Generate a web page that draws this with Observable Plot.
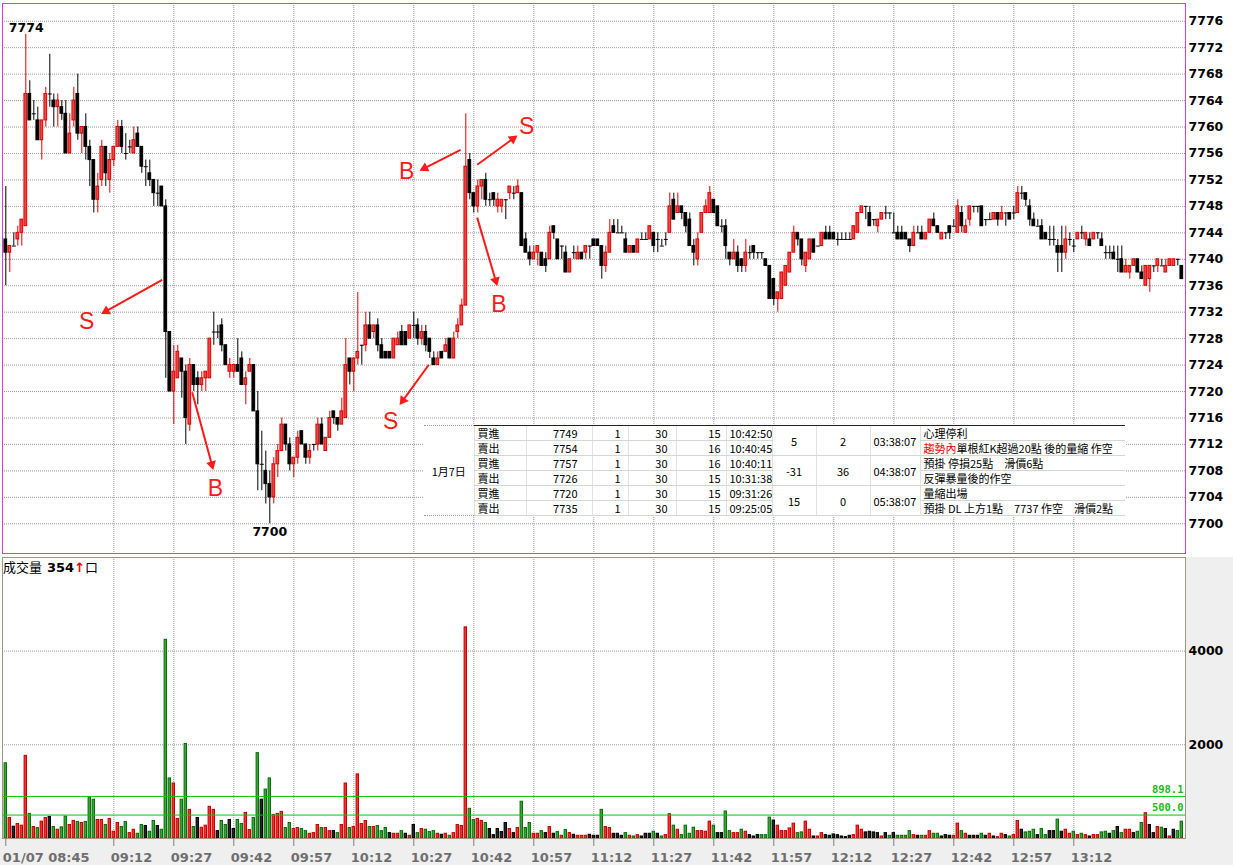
<!DOCTYPE html>
<html><head><meta charset="utf-8">
<script src="https://cdn.jsdelivr.net/npm/d3@7"></script>
<script src="https://cdn.jsdelivr.net/npm/@observablehq/plot@0.6"></script>
<style>
body{margin:0;background:#fff;}
#wrap{position:relative;width:1233px;height:865px;overflow:hidden;background:#fff;}
#price,#vol{position:absolute;left:0;z-index:1;}
#price{top:0}
#vol{top:556px}
.bgR{position:absolute;left:1185px;top:557px;width:48px;height:281px;background:#efefef}
.bgB{position:absolute;left:0;top:838px;width:1233px;height:27px;background:#efefef}
#vlabel{position:absolute;left:3px;top:559px;z-index:3;font-size:13px;line-height:16px;white-space:nowrap;font-family:"Noto Sans CJK TC","DejaVu Sans",sans-serif;color:#000}
#vlabel b{font-family:"DejaVu Sans";font-weight:bold;margin-left:5px}
#vlabel .ar{color:#e00;font-weight:bold;font-family:"DejaVu Sans"}
#trades{position:absolute;left:424px;top:425px;z-index:3;border-collapse:collapse;table-layout:fixed;background:#fff;
 font-family:"Noto Sans CJK TC",sans-serif;font-size:11px;color:#000}
#trades td{height:14px;padding:0;line-height:14px;white-space:nowrap;overflow:hidden;border-left:1px solid #e2e2e2;border-bottom:1px solid #d6d6d6;vertical-align:middle}
#trades td.date{border-left:none;border-top:1px dotted #999;border-bottom:1px dotted #999;text-align:center}
#trades tr.g td{border-top:1px solid #222}
#trades td.side{padding-left:3px}
#trades td.r{text-align:right}
#trades td.c{text-align:center}
#trades td.l{padding-left:3px}
#trades .red{color:#e00}
</style>
</head><body>
<div id="wrap">
  <div class="bgR"></div><div class="bgB"></div>
  <div id="price"></div>
  <div id="vol"></div>
  <div id="vlabel">成交量<b>354</b><span class="ar">↑</span>口</div>
</div>
<script>
// ---------- data (1-minute bars, 01/07 from 08:45) ----------
const open = [
7743,7741,7742,7743,7744,7745,7765,7762,7761,7758,
7761,7765,7764,7763,7763,7762,7756,7761,7765,7759,
7760,7757,7755,7749,7752,7757,7752,7755,7757,7760,
7756,7757,7756,7759,7757,7754,7753,7752,7750,7751,
7748,7729,7720,7722,7725,7723,7715,7724,7722,7721,
7722,7722,7729,7729,7730,7727,7723,7723,7724,7725,
7721,7723,7724,7717,7709,7708,7706,7704,7709,7711,
7715,7712,7709,7710,7714,7712,7710,7712,7712,7715,
7711,7713,7717,7716,7715,7716,7725,7723,7725,7727,
7727,7730,7729,7730,7727,7726,7726,7725,7727,7729,
7729,7728,7730,7730,7728,7729,7728,7725,7724,7726,
7726,7728,7725,7729,7730,7733,7755,7750,7748,7751,
7752,7749,7750,7748,7748,7749,7750,7750,7750,7750,
7743,7741,7740,7741,7741,7740,7740,7745,7743,7742,
7741,7738,7741,7740,7741,7741,7742,7743,7743,7742,
7739,7741,7745,7744,7744,7743,7741,7742,7741,7743,
7743,7743,7744,7743,7742,7743,7744,7749,7747,7748,
7747,7746,7742,7740,7744,7747,7747,7749,7748,7745,
7745,7741,7740,7741,7740,7739,7741,7742,7741,7741,
7740,7739,7737,7734,7734,7736,7738,7741,7744,7743,
7739,7740,7743,7742,7742,7744,7744,7744,7743,7743,
7743,7743,7743,7744,7747,7748,7747,7746,7745,7746,
7747,7747,7744,7744,7744,7744,7743,7742,7744,7744,
7743,7744,7746,7745,7743,7744,7745,7745,7744,7747,
7744,7746,7748,7748,7748,7746,7746,7746,7747,7746,
7747,7747,7747,7747,7750,7750,7748,7746,7745,7745,
7744,7743,7743,7742,7742,7741,7743,7742,7743,7744,
7743,7743,7743,7744,7743,7741,7741,7741,7740,7740,
7738,7738,7739,7740,7738,7736,7737,7739,7739,7739,
7738,7739,7739,7740,7739];
const high = [
7751,7742,7744,7745,7746,7774,7767,7764,7763,7761,
7766,7771,7765,7765,7764,7764,7762,7766,7768,7760,
7762,7758,7755,7753,7758,7757,7756,7757,7761,7761,
7759,7758,7760,7760,7757,7755,7755,7752,7752,7751,
7749,7729,7727,7727,7725,7724,7725,7724,7723,7723,
7723,7728,7732,7730,7731,7727,7725,7724,7728,7726,
7723,7725,7724,7720,7714,7711,7708,7710,7712,7716,
7715,7713,7710,7714,7714,7712,7712,7712,7716,7716,
7713,7717,7717,7716,7719,7728,7725,7725,7735,7727,
7732,7732,7730,7731,7728,7726,7726,7728,7729,7730,
7729,7730,7732,7731,7730,7730,7728,7726,7726,7726,
7728,7728,7729,7731,7734,7762,7756,7750,7752,7752,
7753,7750,7750,7750,7749,7749,7751,7751,7752,7750,
7744,7742,7742,7742,7741,7741,7745,7745,7743,7742,
7742,7740,7742,7742,7741,7742,7742,7743,7743,7742,
7742,7746,7746,7746,7745,7744,7742,7742,7743,7744,
7744,7745,7744,7744,7743,7744,7750,7750,7750,7748,
7747,7747,7743,7744,7747,7749,7751,7749,7748,7746,
7746,7741,7743,7742,7740,7743,7742,7742,7741,7741,
7740,7739,7737,7735,7738,7739,7741,7745,7744,7743,
7741,7743,7743,7742,7744,7745,7745,7744,7744,7744,
7744,7744,7745,7747,7748,7748,7748,7746,7746,7747,
7748,7747,7747,7745,7745,7744,7743,7745,7745,7745,
7744,7746,7747,7745,7744,7744,7745,7746,7749,7748,
7746,7748,7748,7748,7748,7746,7747,7747,7747,7748,
7747,7747,7748,7751,7751,7750,7749,7747,7746,7746,
7744,7745,7745,7743,7745,7745,7744,7743,7744,7745,
7744,7744,7744,7744,7744,7742,7742,7742,7742,7742,
7740,7739,7740,7740,7739,7739,7739,7739,7740,7740,
7740,7740,7740,7740,7739];
const low = [
7736,7738,7742,7742,7742,7745,7761,7761,7758,7755,
7760,7763,7760,7760,7761,7756,7756,7760,7758,7756,
7755,7751,7747,7747,7751,7751,7750,7754,7757,7756,
7755,7756,7756,7757,7753,7751,7751,7748,7748,7748,
7722,7720,7715,7722,7719,7712,7714,7720,7718,7720,
7720,7722,7727,7728,7726,7724,7722,7722,7723,7721,
7718,7723,7717,7705,7705,7703,7700,7703,7707,7711,
7711,7708,7707,7709,7712,7709,7709,7711,7711,7712,
7711,7713,7715,7714,7715,7716,7721,7720,7724,7724,
7726,7728,7728,7726,7725,7725,7725,7725,7727,7727,
7727,7728,7728,7727,7727,7726,7725,7724,7724,7725,
7726,7725,7725,7728,7730,7733,7749,7747,7747,7749,
7748,7748,7748,7747,7747,7746,7749,7749,7750,7742,
7741,7739,7740,7739,7739,7738,7740,7743,7740,7740,
7738,7738,7740,7740,7740,7740,7740,7742,7742,7737,
7738,7741,7744,7744,7744,7741,7741,7741,7741,7743,
7743,7743,7741,7741,7742,7742,7744,7746,7747,7746,
7744,7742,7739,7739,7744,7747,7747,7747,7745,7744,
7740,7739,7740,7738,7738,7738,7740,7740,7740,7740,
7739,7734,7733,7732,7734,7736,7738,7741,7742,7739,
7738,7740,7741,7742,7742,7743,7743,7743,7742,7743,
7743,7743,7743,7744,7747,7746,7745,7745,7744,7746,
7746,7746,7744,7743,7743,7743,7741,7742,7744,7743,
7743,7744,7745,7744,7743,7743,7743,7745,7744,7744,
7744,7745,7747,7747,7745,7745,7746,7746,7745,7746,
7745,7746,7746,7747,7749,7748,7745,7745,7745,7743,
7743,7742,7742,7738,7738,7740,7742,7741,7743,7743,
7742,7742,7743,7743,7742,7740,7740,7740,7738,7738,
7738,7737,7739,7738,7737,7736,7735,7738,7738,7739,
7738,7739,7739,7739,7737];
const close = [
7741,7742,7742,7744,7746,7765,7761,7762,7758,7761,
7765,7765,7763,7764,7762,7756,7759,7764,7759,7760,
7757,7755,7749,7751,7757,7753,7755,7757,7760,7757,
7756,7757,7758,7757,7754,7754,7752,7750,7750,7748,
7729,7720,7723,7726,7723,7716,7724,7721,7721,7722,
7723,7728,7729,7729,7727,7724,7724,7724,7723,7721,
7722,7724,7717,7709,7709,7706,7704,7709,7711,7715,
7712,7709,7710,7713,7712,7710,7711,7712,7715,7712,
7713,7716,7716,7715,7717,7724,7723,7725,7726,7727,
7730,7728,7730,7727,7725,7725,7725,7728,7728,7727,
7727,7730,7730,7728,7729,7727,7726,7724,7725,7725,
7727,7725,7728,7730,7733,7754,7750,7748,7751,7752,
7749,7749,7749,7749,7749,7749,7751,7750,7751,7742,
7741,7740,7741,7742,7739,7739,7744,7744,7740,7742,
7738,7740,7741,7741,7740,7742,7742,7742,7742,7739,
7741,7744,7744,7744,7744,7741,7742,7741,7743,7743,
7743,7745,7742,7743,7742,7743,7748,7746,7748,7747,
7745,7742,7741,7743,7747,7748,7750,7747,7745,7745,
7742,7740,7741,7739,7739,7741,7741,7741,7741,7741,
7739,7734,7734,7735,7738,7739,7741,7744,7743,7740,
7741,7743,7741,7742,7744,7743,7743,7743,7743,7743,
7743,7743,7745,7747,7748,7748,7745,7746,7746,7747,
7747,7747,7744,7743,7743,7743,7742,7744,7744,7743,
7744,7746,7745,7744,7744,7744,7744,7745,7748,7745,
7745,7748,7748,7748,7745,7746,7746,7747,7746,7747,
7747,7746,7747,7750,7750,7749,7746,7745,7745,7743,
7743,7743,7743,7741,7741,7743,7743,7742,7744,7744,
7744,7742,7744,7744,7742,7741,7741,7740,7740,7738,
7739,7739,7740,7738,7737,7739,7739,7739,7740,7739,
7739,7740,7740,7740,7737];
const volume = [
1606,439,252,310,274,1764,526,245,223,360,
439,460,245,187,238,468,288,374,353,331,
353,878,828,396,396,288,418,144,331,245,
353,115,187,101,288,266,144,374,266,187,
4241,1282,1174,418,828,2016,612,245,439,230,
274,677,612,158,374,288,396,202,396,310,
547,180,439,1822,828,1044,1282,504,526,569,
223,331,202,223,202,158,101,115,288,223,
223,158,158,115,288,1174,223,245,1368,310,
374,245,245,266,158,223,115,101,101,158,
101,58,288,115,202,187,137,158,101,79,
101,58,115,288,266,4507,634,396,418,374,
331,202,72,202,137,331,202,115,223,785,
223,331,101,101,158,115,245,101,137,58,
180,115,79,58,58,58,79,58,58,612,
245,223,101,101,58,115,58,43,72,43,
101,101,144,101,43,72,518,274,187,72,
274,101,230,158,158,144,360,274,115,115,
576,158,115,115,187,144,72,43,72,72,
72,446,382,274,158,158,216,317,115,130,
360,187,43,43,115,72,58,86,72,43,
29,58,72,274,187,130,144,130,115,43,
115,58,115,58,58,58,158,72,58,58,
58,158,101,101,43,72,58,58,317,158,
101,58,58,58,101,58,101,43,29,101,
72,43,72,374,187,130,144,187,72,202,
72,158,158,403,144,187,101,144,72,101,
72,43,72,72,130,144,101,158,245,115,
187,187,115,144,331,540,288,115,245,230,
202,43,187,158,360];
// bar colour of each volume bar: r = red, g = green, k = black
const volColor = (
"grkrrrgrgr"+"rkgrggrrgr"+"gggrrgrrrg"+"grrggkggkg"+
"ggrrggrgkr"+"rrrkggkkgg"+"rrggkggrrr"+"ggrrggrrrg"+
"rrkgrrgrrr"+"rgrgggkrrg"+"krkgrgggrk"+"rgrrrrggrr"+
"gkkkkkrkrg"+"ggrrgkrkgr"+"grkrrrkkkg"+"rrkkkgrgrk"+
"kkgkgrrgrg"+"gggrrrrgkk"+"ggrrgrkkkg"+"ggkrrrrrgg"+
"rrkrrkkkkk"+"kkrrrkkkkr"+"kgkggggrkg"+"rrggkkkrrg"+
"rkkkgkrkrr"+"kgrrkgggkg"+"gkkgkrrgrg"+"rkrrggkgkg"+
"rrkggrkkrg"+"krkgg").split("");

const priceTicks = [7700,7704,7708,7712,7716,7720,7724,7728,7732,7736,7740,7744,7748,7752,7756,7760,7764,7768,7772,7776];
const volTicks = [2000,4000];
const volAvgLines = [898.1,500.0];
const timeTickIdx = [0,27,42,57,72,87,102,117,132,147,162,177,192,207,222,237,252,267];
const timeTickLabels = ["01/07 08:45","09:12","09:27","09:42","09:57","10:12","10:27","10:42","10:57","11:12","11:27","11:42","11:57","12:12","12:27","12:42","12:57","13:12"];

// trade signals drawn on the chart (bar index, price)
const signalFromX = [39.1,46.6,105.75,113.7,117.85,117.85];
const signalFromY = [7736.9,7719.9,7724.05,7756.55,7754.3,7746.3];
const signalToX   = [23.9,51.85,98.5,103.5,127.85,122.85];
const signalToY   = [7731.75,7708.2,7718.0,7753.4,7758.7,7736.0];
const signalText  = ["S","B","S","B","S","B"];
const signalTextX = [20.2,52.4,96.2,100.2,130.2,123.25];
const signalTextY = [7730.6,7705.3,7715.4,7753.2,7760.1,7733.2];

// trade log table
const tradeDate = "1月7日";
const tradeSide = ["買進","賣出","買進","賣出","買進","賣出"];
const tradePrice = [7749,7754,7757,7726,7720,7735];
const tradeQty = [1,1,1,1,1,1];
const tradeMult = [30,30,30,30,30,30];
const tradeFee = [15,16,16,15,15,15];
const tradeTime = ["10:42:50","10:40:45","10:40:11","10:31:38","09:31:26","09:25:05"];
const groupPL = [5,-31,15];
const groupPts = [2,36,0];
const groupHold = ["03:38:07","04:38:07","05:38:07"];
const noteLead = ["","趨勢內","","","",""];
const noteText = ["心理停利","單根紅K超過20點 後的量縮 作空","預掛 停損25點　滑價6點","反彈暴量後的作空","量縮出場","預掛 DL 上方1點　7737 作空　滑價2點"];
const volumeNow = 354;

// ---------- build ----------
const N = open.length;
const bars = d3.range(N).map(i => ({i, o: open[i], h: high[i], l: low[i], c: close[i], v: volume[i], vc: volColor[i]}));
const up = bars.filter(d => d.c > d.o), dn = bars.filter(d => d.c < d.o), dj = bars.filter(d => d.c === d.o);
const xDom = [-0.825, 294.925];
const yDom = [7695.51, 7778.68];
const grid = {stroke: "#9a9a9a", strokeDasharray: "1,1", strokeWidth: 1};
const hw = 0.34;
const hiBar = bars[d3.maxIndex(bars, d => d.h)];
const loBar = bars[d3.minIndex(bars, d => d.l)];
const axisFont = {fontFamily: "DejaVu Sans", fontWeight: "bold", fontSize: 12.5};

// pixel size of one unit on each price-panel scale (used to orient arrowheads)
const pxX = 1183 / (xDom[1] - xDom[0]);
const pxY = 550 / (yDom[1] - yDom[0]);
const signals = signalText.map((t, k) => {
  const s = {t, x1: signalFromX[k], y1: signalFromY[k], x2: signalToX[k], y2: signalToY[k], tx: signalTextX[k], ty: signalTextY[k]};
  const dx = (s.x2 - s.x1) * pxX, dy = -(s.y2 - s.y1) * pxY, len = Math.hypot(dx, dy);
  const ux = dx / len, uy = dy / len;
  s.rot = Math.atan2(ux, -uy) * 180 / Math.PI;
  s.hx = s.x2 - ux * 5.4 / pxX; s.hy = s.y2 + uy * 5.4 / pxY;
  s.lx = s.x2 - ux * 6 / pxX;   s.ly = s.y2 + uy * 6 / pxY;
  return s;
});

const pricePlot = Plot.plot({
  width: 1233, height: 556,
  marginLeft: 2, marginRight: 48, marginTop: 3, marginBottom: 3,
  x: {domain: xDom, axis: null},
  y: {domain: yDom, axis: null},
  style: {background: "transparent", overflow: "visible"},
  marks: [
    Plot.ruleY(priceTicks, grid),
    Plot.ruleX(timeTickIdx.slice(1), grid),
    Plot.ruleX(up, {x: "i", y1: "l", y2: "h", stroke: "#e00000"}),
    Plot.ruleX(dn.concat(dj), {x: "i", y1: "l", y2: "h", stroke: "#000"}),
    Plot.rect(up, {x1: d => d.i - hw, x2: d => d.i + hw, y1: "o", y2: "c", fill: "#f04848", stroke: "#e00000"}),
    Plot.rect(dn, {x1: d => d.i - hw, x2: d => d.i + hw, y1: "o", y2: "c", fill: "#000", stroke: "#000"}),
    Plot.link(dj, {x1: d => d.i - 0.5, x2: d => d.i + 0.5, y1: "o", y2: "o", stroke: "#000"}),
    Plot.text([hiBar], {x: "i", y: "h", text: d => String(d.h), dx: -17, dy: -6, textAnchor: "start", fill: "#000", ...axisFont}),
    Plot.text([loBar], {x: "i", y: "l", text: d => String(d.l), dy: 8, fill: "#000", ...axisFont}),
    Plot.link(signals, {x1: "x1", y1: "y1", x2: "lx", y2: "ly", stroke: "#ff1a1a", strokeWidth: 2}),
    Plot.dot(signals, {x: "hx", y: "hy", symbol: "triangle", r: 3.7, fill: "#ff1a1a", stroke: "none", rotate: "rot"}),
    Plot.text(signals, {x: "tx", y: "ty", text: "t", fill: "#ff1a1a", fontSize: 23, fontFamily: "Liberation Sans"}),
    Plot.text(priceTicks, {frameAnchor: "right", y: d => d, text: d => String(d), textAnchor: "start", dx: 3, fill: "#000", ...axisFont}),
    Plot.frame({stroke: "#d63fd6"})
  ]
});
document.getElementById("price").appendChild(pricePlot);

const vbar = (code, fill, stroke) => Plot.rect(bars.filter(d => d.vc === code),
  {x1: d => d.i - 0.3, x2: d => d.i + 0.3, y1: 0, y2: "v", fill, stroke});
const volPlot = Plot.plot({
  width: 1233, height: 309,
  marginLeft: 2, marginRight: 48, marginTop: 1, marginBottom: 27,
  x: {domain: xDom, axis: null},
  y: {domain: [0, 5998], axis: null},
  style: {background: "transparent", overflow: "visible"},
  marks: [
    Plot.ruleY(volTicks, grid),
    Plot.ruleX(timeTickIdx.slice(1), grid),
    vbar("r", "#f23030", "#c80000"),
    vbar("g", "#37a837", "#0b6e0b"),
    vbar("k", "#222", "#000"),
    Plot.ruleY(volAvgLines, {stroke: "#00c800", strokeWidth: 1}),
    Plot.text(volAvgLines, {frameAnchor: "right", y: d => d, text: d => d.toFixed(1), textAnchor: "end", dx: -2, dy: -7, fill: "#1fb81f", fontFamily: "DejaVu Sans Mono", fontWeight: "bold", fontSize: 10.5}),
    Plot.text(volTicks, {frameAnchor: "right", y: d => d, text: d => String(d), textAnchor: "start", dx: 3, fill: "#000", ...axisFont}),
    Plot.frame({stroke: "#a0977e"}),
    Plot.ruleX(timeTickIdx, {y1: 0, y2: -171, stroke: "#808080"}),
    Plot.text(timeTickIdx, {x: d => d, y: 0, text: (d, k) => timeTickLabels[k], textAnchor: "start", dx: -3, dy: 19, fill: "#6e6e6e", fontFamily: "DejaVu Sans", fontWeight: "bold", fontSize: 13})
  ]
});
document.getElementById("vol").appendChild(volPlot);

// volume label
document.querySelector("#vlabel b").textContent = String(volumeNow);

// trade table
const widths = [50,52,66,36,48,50,46,44,54,50,205];
const tbl = document.createElement("table");
tbl.id = "trades";
const cg = document.createElement("colgroup");
widths.forEach(w => { const c = document.createElement("col"); c.style.width = w + "px"; cg.appendChild(c); });
tbl.appendChild(cg);
tbl.style.width = d3.sum(widths) + "px";
tradeSide.forEach((side, r) => {
  const tr = document.createElement("tr");
  if (r % 2 === 0) tr.className = "g";
  const cell = (txt, cls, rs) => { const td = document.createElement("td"); td.textContent = txt; if (cls) td.className = cls; if (rs) td.rowSpan = rs; tr.appendChild(td); return td; };
  if (r === 0) { const td = cell(tradeDate, "date", 6); td.style.borderTop = "1px dotted #999"; }
  cell(side, "side");
  cell(String(tradePrice[r]), "r").style.paddingRight = "14px";
  cell(String(tradeQty[r]), "r").style.paddingRight = "7px";
  cell(String(tradeMult[r]), "r").style.paddingRight = "8px";
  cell(String(tradeFee[r]), "r").style.paddingRight = "5px";
  cell(tradeTime[r], "l");
  if (r % 2 === 0) {
    const g = r / 2;
    cell(String(groupPL[g]), "c", 2);
    cell(String(groupPts[g]), "c", 2);
    cell(groupHold[g], "l", 2);
  }
  const nt = cell("", "l");
  if (noteLead[r]) { const s = document.createElement("span"); s.className = "red"; s.textContent = noteLead[r]; nt.appendChild(s); }
  nt.appendChild(document.createTextNode(noteText[r]));
  tbl.appendChild(tr);
});
document.getElementById("wrap").appendChild(tbl);
</script>
</body></html>
